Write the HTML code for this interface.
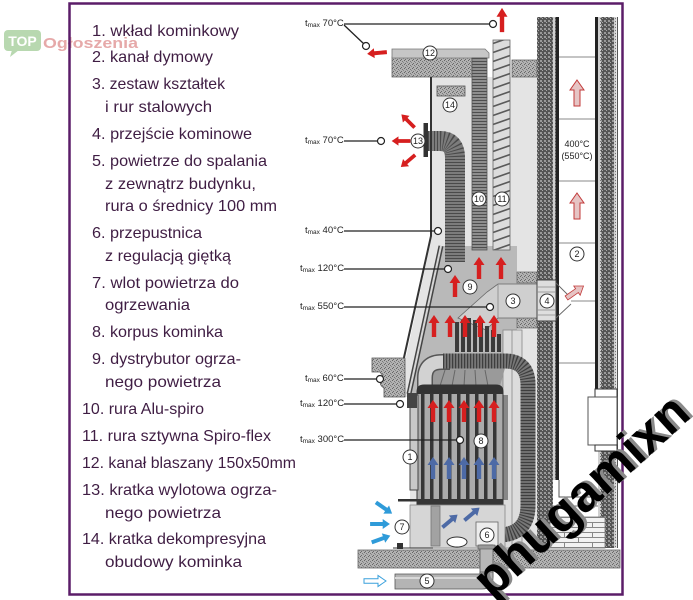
<!DOCTYPE html>
<html><head><meta charset="utf-8"><style>
html,body{margin:0;padding:0;background:#fff;}
svg{display:block;}
.t{font-family:"Liberation Sans",sans-serif;font-size:16px;fill:#3f1d43;}
.tm{font-family:"Liberation Sans",sans-serif;font-size:9.5px;fill:#222;}
.n{font-family:"Liberation Sans",sans-serif;font-size:9px;fill:#222;text-anchor:middle;}
.c{fill:#fff;stroke:#333;stroke-width:1;}
.lc{fill:#fff;stroke:#222;stroke-width:1.2;}
.ll{stroke:#222;stroke-width:1.3;fill:none;}
</style></head><body>
<svg width="693" height="600" viewBox="0 0 693 600" xmlns="http://www.w3.org/2000/svg">
<defs>
<pattern id="conc" patternUnits="userSpaceOnUse" width="4" height="4"><rect width="4" height="4" fill="#b2b2b2"/><rect width="1" height="1" fill="#666"/><rect x="2" y="1" width="1" height="1" fill="#777"/><rect x="1" y="3" width="1" height="1" fill="#6a6a6a"/><rect x="3" y="2" width="1" height="1" fill="#888"/></pattern>
<pattern id="brk" patternUnits="userSpaceOnUse" width="4" height="4"><rect width="4" height="4" fill="#555"/><rect width="2" height="2" fill="#9a9a9a"/><rect x="2" y="2" width="1" height="1" fill="#aaa"/></pattern>
<pattern id="ins" patternUnits="userSpaceOnUse" width="3" height="3"><rect width="3" height="3" fill="#d0d0d0"/><rect width="1" height="1" fill="#777"/></pattern>
<pattern id="spiro" patternUnits="userSpaceOnUse" x="493" y="0" width="17" height="9"><rect width="17" height="9" fill="#dcdcdc"/><path d="M0,7.5 L17,1.5" stroke="#5a5a5a" stroke-width="1.6"/></pattern>
<pattern id="bricks" patternUnits="userSpaceOnUse" x="550" y="517" width="28" height="10"><rect width="28" height="10" fill="#f2f2f2"/><path d="M0,0.5 H28 M0,5.5 H28 M0.5,0 V5 M14.5,5 V10" stroke="#888" stroke-width="1"/></pattern>
<path id="arw" d="M0,-11 L5.5,-3 L2.2,-3 L2.2,11 L-2.2,11 L-2.2,-3 L-5.5,-3 Z"/>
<path id="parw" d="M0,-13 L7,-3 L3,-3 L3,13 L-3,13 L-3,-3 L-7,-3 Z"/>
</defs>

<!-- TOP Ogloszenia logo -->
<rect x="4" y="30" width="37" height="21" rx="4" fill="#b8d8b0"/>
<path d="M12,50 L10,57 L19,50 Z" fill="#b8d8b0"/>
<text x="22.5" y="46" fill="#fff" font-family="Liberation Sans" font-weight="bold" font-size="14" text-anchor="middle">TOP</text>
<text x="43" y="48" fill="#e6a9a9" font-family="Liberation Sans" font-weight="bold" font-size="15" textLength="95" lengthAdjust="spacingAndGlyphs">Ogłoszenia</text>

<!-- frame -->
<rect x="69.5" y="3.5" width="553" height="591" fill="none" stroke="#5b1d68" stroke-width="2.5"/>

<!-- legend -->
<text class="t" x="92" y="36" textLength="147" lengthAdjust="spacingAndGlyphs">1. wkład kominkowy</text>
<text class="t" x="92" y="62" textLength="121" lengthAdjust="spacingAndGlyphs">2. kanał dymowy</text>
<text class="t" x="92" y="89" textLength="133" lengthAdjust="spacingAndGlyphs">3. zestaw kształtek</text>
<text class="t" x="105" y="112" textLength="107" lengthAdjust="spacingAndGlyphs">i rur stalowych</text>
<text class="t" x="92" y="139" textLength="160" lengthAdjust="spacingAndGlyphs">4. przejście kominowe</text>
<text class="t" x="92" y="166" textLength="175" lengthAdjust="spacingAndGlyphs">5. powietrze do spalania</text>
<text class="t" x="105" y="189" textLength="151" lengthAdjust="spacingAndGlyphs">z zewnątrz budynku,</text>
<text class="t" x="105" y="211" textLength="172" lengthAdjust="spacingAndGlyphs">rura o średnicy 100 mm</text>
<text class="t" x="92" y="238" textLength="110" lengthAdjust="spacingAndGlyphs">6. przepustnica</text>
<text class="t" x="105" y="261" textLength="126" lengthAdjust="spacingAndGlyphs">z regulacją giętką</text>
<text class="t" x="92" y="288" textLength="147" lengthAdjust="spacingAndGlyphs">7. wlot powietrza do</text>
<text class="t" x="105" y="310" textLength="85" lengthAdjust="spacingAndGlyphs">ogrzewania</text>
<text class="t" x="92" y="337" textLength="131" lengthAdjust="spacingAndGlyphs">8. korpus kominka</text>
<text class="t" x="92" y="364" textLength="149" lengthAdjust="spacingAndGlyphs">9. dystrybutor ogrza-</text>
<text class="t" x="105" y="387" textLength="116" lengthAdjust="spacingAndGlyphs">nego powietrza</text>
<text class="t" x="82" y="414" textLength="122" lengthAdjust="spacingAndGlyphs">10. rura Alu-spiro</text>
<text class="t" x="82" y="441" textLength="189" lengthAdjust="spacingAndGlyphs">11. rura sztywna Spiro-flex</text>
<text class="t" x="82" y="468" textLength="214" lengthAdjust="spacingAndGlyphs">12. kanał blaszany 150x50mm</text>
<text class="t" x="82" y="495" textLength="195" lengthAdjust="spacingAndGlyphs">13. kratka wylotowa ogrza-</text>
<text class="t" x="105" y="518" textLength="116" lengthAdjust="spacingAndGlyphs">nego powietrza</text>
<text class="t" x="82" y="544" textLength="184" lengthAdjust="spacingAndGlyphs">14. kratka dekompresyjna</text>
<text class="t" x="105" y="567" textLength="137" lengthAdjust="spacingAndGlyphs">obudowy kominka</text>

<!-- housing fill -->
<polygon points="432,77 537,77 537,550 410,550 410,397 405,397 405,362 432,236" fill="#e4e4e4"/>
<!-- distributor -->
<polygon points="441,246 517,246 517,392 409,393" fill="#b9b9b9"/>
<rect x="503" y="330" width="19" height="218" fill="#dcdcdc"/>
<line x1="512" y1="330" x2="512" y2="548" stroke="#999" stroke-width="1"/>
<rect x="503" y="330" width="19" height="218" fill="none" stroke="#888" stroke-width="0.8"/>

<!-- ceiling slabs & duct 12 -->
<rect x="392" y="57" width="80" height="20" fill="url(#conc)" stroke="#666" stroke-width="0.8"/>
<rect x="512" y="60" width="25" height="17" fill="url(#conc)" stroke="#666" stroke-width="0.8"/>
<path d="M392,49 L485,49 L489,53 L489,58 L392,58 Z" fill="#c6c6c6" stroke="#777" stroke-width="0.8"/>

<!-- pipe 10 -->
<line x1="479.5" y1="58" x2="479.5" y2="250" stroke="#8e8e8e" stroke-width="15"/>
<line x1="479.5" y1="58" x2="479.5" y2="250" stroke="#4e4e4e" stroke-width="15" stroke-dasharray="1 2"/>
<rect x="472" y="58" width="15" height="192" fill="none" stroke="#555" stroke-width="0.8"/>
<!-- pipe 11 -->
<rect x="493" y="40" width="17" height="210" fill="url(#spiro)" stroke="#666" stroke-width="0.8"/>

<!-- hose 13 -->
<path d="M428,141 L440,141 Q455,141 455,158 L455,262" fill="none" stroke="#7c7c7c" stroke-width="20"/>
<path d="M428,141 L440,141 Q455,141 455,158 L455,262" fill="none" stroke="#4a4a4a" stroke-width="20" stroke-dasharray="1 2"/>
<rect x="423.5" y="123" width="4.5" height="34" fill="#333"/>
<!-- grille 14 -->
<rect x="437" y="86" width="28" height="10" fill="url(#conc)" stroke="#555" stroke-width="0.8"/>

<!-- housing outline & inner stripe -->
<path d="M431,77 L431,236 L403,362" fill="none" stroke="#333" stroke-width="2"/>
<line x1="441" y1="246" x2="409" y2="394" stroke="#444" stroke-width="5"/>
<line x1="441" y1="246" x2="409" y2="394" stroke="#d6d6d6" stroke-width="2"/>
<!-- shelf -->
<path d="M372,358 L405,358 L405,397 L384,397 L384,388 Q377,384 383,376 L380,372 L372,372 Z" fill="url(#conc)" stroke="#555" stroke-width="0.8"/>

<!-- chimney -->
<rect x="537" y="17" width="16" height="531" fill="url(#brk)"/>
<rect x="553" y="17" width="2.5" height="463" fill="url(#ins)"/>
<rect x="555.5" y="17" width="3.5" height="463" fill="#222"/>
<rect x="595" y="17" width="3" height="373" fill="#222"/>
<rect x="598" y="17" width="3" height="531" fill="url(#ins)"/>
<rect x="601" y="17" width="13" height="531" fill="url(#brk)"/>
<rect x="614" y="17" width="2.5" height="531" fill="url(#ins)"/>
<line x1="617.5" y1="17" x2="617.5" y2="548" stroke="#555" stroke-width="1"/>
<g stroke="#888" stroke-width="0.9">
<line x1="559" y1="57" x2="595" y2="57"/><line x1="559" y1="119" x2="595" y2="119"/>
<line x1="559" y1="181" x2="595" y2="181"/><line x1="559" y1="243" x2="595" y2="243"/>
<line x1="559" y1="363" x2="595" y2="363"/><line x1="571" y1="301" x2="595" y2="301"/>
</g>
<!-- cleanout -->
<rect x="595" y="389" width="22" height="8" fill="#fff" stroke="#333" stroke-width="1"/>
<rect x="588" y="397" width="29" height="48" fill="#fff" stroke="#555" stroke-width="1"/>
<rect x="595" y="445" width="22" height="6" fill="#fff" stroke="#333" stroke-width="1"/>
<!-- chimney bottom -->
<path d="M559,480 L559,497 L598,497" fill="none" stroke="#555" stroke-width="1"/>
<rect x="550" y="517" width="55" height="31" fill="url(#bricks)" stroke="#777" stroke-width="0.8"/>
<line x1="550" y1="506" x2="598" y2="506" stroke="#777" stroke-width="1"/>

<!-- duct 3 and passage 4 -->
<rect x="517" y="272" width="20" height="11" fill="url(#conc)" stroke="#555" stroke-width="0.6"/>
<rect x="517" y="318" width="20" height="10" fill="url(#conc)" stroke="#555" stroke-width="0.6"/>
<polygon points="498,284 537,284 537,318 498,318 486,330 458,318 487,292" fill="#cfcfcf" stroke="#666" stroke-width="0.8"/>
<line x1="498" y1="284" x2="498" y2="318" stroke="#888" stroke-width="0.8"/>
<rect x="537" y="280" width="19" height="41" fill="#dedede" stroke="#444" stroke-width="1"/>
<g stroke="#888" stroke-width="0.8"><line x1="537" y1="287" x2="556" y2="287"/><line x1="537" y1="292" x2="556" y2="292"/><line x1="537" y1="310" x2="556" y2="310"/><line x1="537" y1="315" x2="556" y2="315"/></g>
<path d="M556,283 L571,298 M556,318 L571,304" stroke="#666" stroke-width="0.9" fill="none"/>

<!-- stove top fins -->
<g fill="#3a3a3a">
<rect x="455" y="322" width="4" height="30"/><rect x="461" y="320" width="4" height="32"/>
<rect x="467" y="318" width="4" height="34"/><rect x="473" y="320" width="4" height="32"/>
<rect x="479" y="322" width="4" height="30"/><rect x="485" y="326" width="4" height="26"/>
<rect x="491" y="330" width="4" height="22"/><rect x="497" y="334" width="4" height="18"/>
</g>
<!-- collar under hose -->
<polygon points="432,368 505,368 500,386 432,386" fill="#9a9a9a"/>
<g stroke="#666" stroke-width="1"><line x1="445" y1="370" x2="440" y2="386"/><line x1="455" y1="370" x2="452" y2="386"/><line x1="465" y1="370" x2="464" y2="386"/><line x1="475" y1="370" x2="476" y2="386"/><line x1="485" y1="370" x2="488" y2="386"/></g>
<!-- alu elbow -->
<path d="M425,394 L425,378 Q425,362 442,362 L450,362" fill="none" stroke="#555" stroke-width="16"/>
<path d="M425,394 L425,378 Q425,362 442,362 L450,362" fill="none" stroke="#d2d2d2" stroke-width="13"/>
<!-- big flex hose -->
<path d="M443,361 L505,361 Q528,361 528,385 L528,505 Q528,534 500,535 L490,535" fill="none" stroke="#777" stroke-width="15"/>
<path d="M443,361 L505,361 Q528,361 528,385 L528,505 Q528,534 500,535 L490,535" fill="none" stroke="#3e3e3e" stroke-width="15" stroke-dasharray="1.2 1.8"/>

<!-- stove body -->
<rect x="503" y="395" width="5" height="105" fill="#888"/>
<path d="M417,505 L417,392 Q417,385 424,385 L496,385 Q503,385 503,392 L503,505 Z" fill="#ababab" stroke="#333" stroke-width="1"/>
<path d="M417,394 L417,390 Q417,385 424,385 L496,385 Q503,385 503,390 L503,394 Z" fill="#333"/>
<g fill="#363636">
<rect x="421" y="393" width="3.5" height="110"/><rect x="430" y="393" width="3.5" height="110"/>
<rect x="439" y="393" width="3.5" height="110"/><rect x="448" y="393" width="3.5" height="110"/>
<rect x="457" y="393" width="3.5" height="110"/><rect x="466" y="393" width="3.5" height="110"/>
<rect x="475" y="393" width="3.5" height="110"/><rect x="484" y="393" width="3.5" height="110"/>
<rect x="493" y="393" width="3.5" height="110"/>
<rect x="417" y="499" width="86" height="6"/>
</g>
<rect x="410" y="395" width="8" height="95" fill="#c8c8c8" stroke="#444" stroke-width="1"/>
<rect x="407" y="393" width="10" height="15" fill="#444"/>
<!-- bottom box -->
<rect x="410" y="505" width="95" height="43" fill="#d6d6d6" stroke="#888" stroke-width="0.8"/>
<rect x="398" y="499" width="19" height="2.5" fill="#333"/>
<rect x="431" y="506" width="9" height="40" fill="#a2a2a2" stroke="#777" stroke-width="0.8"/>
<ellipse cx="457" cy="542" rx="10" ry="5" fill="#fff" stroke="#333" stroke-width="1"/>
<rect x="476" y="522" width="22" height="24" fill="#ececec" stroke="#666" stroke-width="0.8"/>
<line x1="393" y1="548" x2="433" y2="548" stroke="#333" stroke-width="1"/>
<rect x="397" y="543" width="6" height="6" fill="#333"/>

<!-- floor slab -->
<rect x="358" y="550" width="262" height="18" fill="url(#conc)" stroke="#666" stroke-width="0.8"/>
<!-- pipes 6 / 5 -->
<rect x="480" y="545" width="13" height="32" fill="#b8b8b8" stroke="#555" stroke-width="0.8"/>
<rect x="478" y="545" width="17" height="4" fill="#999" stroke="#555" stroke-width="0.6"/>
<path d="M395,574 L480,574 L480,572 L493,572 L493,578 Q493,589 482,589 L395,589 Z" fill="#b4b4b4" stroke="#555" stroke-width="0.8"/>
<line x1="395" y1="578" x2="485" y2="578" stroke="#d8d8d8" stroke-width="2"/>

<!-- arrows red -->
<g fill="#d61f1f">
<use href="#arw" transform="translate(502,20) scale(1,1.1)"/>
<use href="#arw" transform="translate(377,53) rotate(-95) scale(0.9)"/>
<use href="#arw" transform="translate(408,121) rotate(-45) scale(0.85)"/>
<use href="#arw" transform="translate(401,141) rotate(-90) scale(0.85)"/>
<use href="#arw" transform="translate(408,161) rotate(-130) scale(0.85)"/>
<use href="#arw" transform="translate(455,286)"/>
<use href="#arw" transform="translate(479,268)"/>
<use href="#arw" transform="translate(501,268)"/>
<use href="#arw" transform="translate(434,326)"/>
<use href="#arw" transform="translate(450,326)"/>
<use href="#arw" transform="translate(465,326)"/>
<use href="#arw" transform="translate(480,326)"/>
<use href="#arw" transform="translate(494,326)"/>
<use href="#arw" transform="translate(433,411)"/>
<use href="#arw" transform="translate(449,411)"/>
<use href="#arw" transform="translate(464,411)"/>
<use href="#arw" transform="translate(479,411)"/>
<use href="#arw" transform="translate(494,411)"/>
</g>
<g fill="#4d6aa6">
<use href="#arw" transform="translate(433,468)"/>
<use href="#arw" transform="translate(449,468)"/>
<use href="#arw" transform="translate(464,468)"/>
<use href="#arw" transform="translate(479,468)"/>
<use href="#arw" transform="translate(494,468)"/>
<use href="#arw" transform="translate(450,521) rotate(50) scale(0.9)"/>
<use href="#arw" transform="translate(472,514) rotate(50) scale(0.9)"/>
</g>
<g fill="#2f9bd9">
<use href="#arw" transform="translate(384,508) rotate(125) scale(0.9)"/>
<use href="#arw" transform="translate(380,524) rotate(90) scale(0.9)"/>
<use href="#arw" transform="translate(381,539) rotate(70) scale(0.9)"/>
</g>
<use href="#arw" transform="translate(375,581) rotate(90)" fill="#fff" stroke="#3aa0dc" stroke-width="1"/>
<g fill="#e6c4c4" stroke="#c23a3a" stroke-width="1">
<use href="#parw" transform="translate(577,93)"/>
<use href="#parw" transform="translate(577,206)"/>
<use href="#parw" transform="translate(575,292) rotate(55) scale(0.8)"/>
</g>

<!-- chimney text -->
<text class="n" x="577" y="147" font-size="10">400°C</text>
<text class="n" x="577" y="159" font-size="10">(550°C)</text>

<!-- leader lines -->
<g class="ll">
<line x1="344" y1="24" x2="490" y2="24"/><line x1="344" y1="25" x2="364" y2="44"/>
<line x1="344" y1="141" x2="378" y2="141"/>
<line x1="344" y1="231" x2="435" y2="231"/>
<line x1="344" y1="269" x2="445" y2="269"/>
<line x1="344" y1="307" x2="487" y2="307"/>
<line x1="344" y1="379" x2="377" y2="379"/>
<line x1="344" y1="404" x2="397" y2="404"/>
<line x1="344" y1="440" x2="457" y2="440"/>
</g>
<g class="lc">
<circle cx="493" cy="24" r="3.5"/><circle cx="366" cy="46" r="3.5"/>
<circle cx="381" cy="141" r="3.5"/><circle cx="438" cy="231" r="3.5"/>
<circle cx="448" cy="269" r="3.5"/><circle cx="490" cy="307" r="3.5"/>
<circle cx="380" cy="379" r="3.5"/><circle cx="400" cy="404" r="3.5"/>
<circle cx="460" cy="440" r="3.5"/>
</g>
<g class="tm">
<text x="305" y="26">t<tspan font-size="6.5" dy="1">max</tspan><tspan dy="-1"> 70°C</tspan></text>
<text x="305" y="143">t<tspan font-size="6.5" dy="1">max</tspan><tspan dy="-1"> 70°C</tspan></text>
<text x="305" y="233">t<tspan font-size="6.5" dy="1">max</tspan><tspan dy="-1"> 40°C</tspan></text>
<text x="300" y="271">t<tspan font-size="6.5" dy="1">max</tspan><tspan dy="-1"> 120°C</tspan></text>
<text x="300" y="309">t<tspan font-size="6.5" dy="1">max</tspan><tspan dy="-1"> 550°C</tspan></text>
<text x="305" y="381">t<tspan font-size="6.5" dy="1">max</tspan><tspan dy="-1"> 60°C</tspan></text>
<text x="300" y="406">t<tspan font-size="6.5" dy="1">max</tspan><tspan dy="-1"> 120°C</tspan></text>
<text x="300" y="442">t<tspan font-size="6.5" dy="1">max</tspan><tspan dy="-1"> 300°C</tspan></text>
</g>

<!-- numbered circles -->
<g class="c">
<circle cx="430" cy="53" r="7"/><circle cx="450" cy="105" r="7"/><circle cx="418" cy="141" r="7"/>
<circle cx="479" cy="199" r="7"/><circle cx="502" cy="199" r="7"/><circle cx="470" cy="287" r="7"/>
<circle cx="513" cy="301" r="7"/><circle cx="547" cy="301" r="7"/><circle cx="577" cy="254" r="7"/>
<circle cx="481" cy="441" r="7"/><circle cx="410" cy="457" r="7"/><circle cx="402" cy="527" r="7"/>
<circle cx="487" cy="535" r="7"/><circle cx="427" cy="581" r="7"/>
</g>
<g class="n">
<text x="430" y="56">12</text><text x="450" y="108">14</text><text x="418" y="144">13</text>
<text x="479" y="202">10</text><text x="502" y="202">11</text><text x="470" y="290">9</text>
<text x="513" y="304">3</text><text x="547" y="304">4</text><text x="577" y="257">2</text>
<text x="481" y="444">8</text><text x="410" y="460">1</text><text x="402" y="530">7</text>
<text x="487" y="538">6</text><text x="427" y="584">5</text>
</g>

<!-- watermark -->
<g font-family="Liberation Sans" font-weight="bold" font-size="51">
<text transform="translate(495,598) rotate(-42.5)" fill="#8a8a8a">phugamixn</text>
<text transform="translate(492,600) rotate(-42.5)" fill="#000">phugamixn</text>
</g>
</svg>
</body></html>
